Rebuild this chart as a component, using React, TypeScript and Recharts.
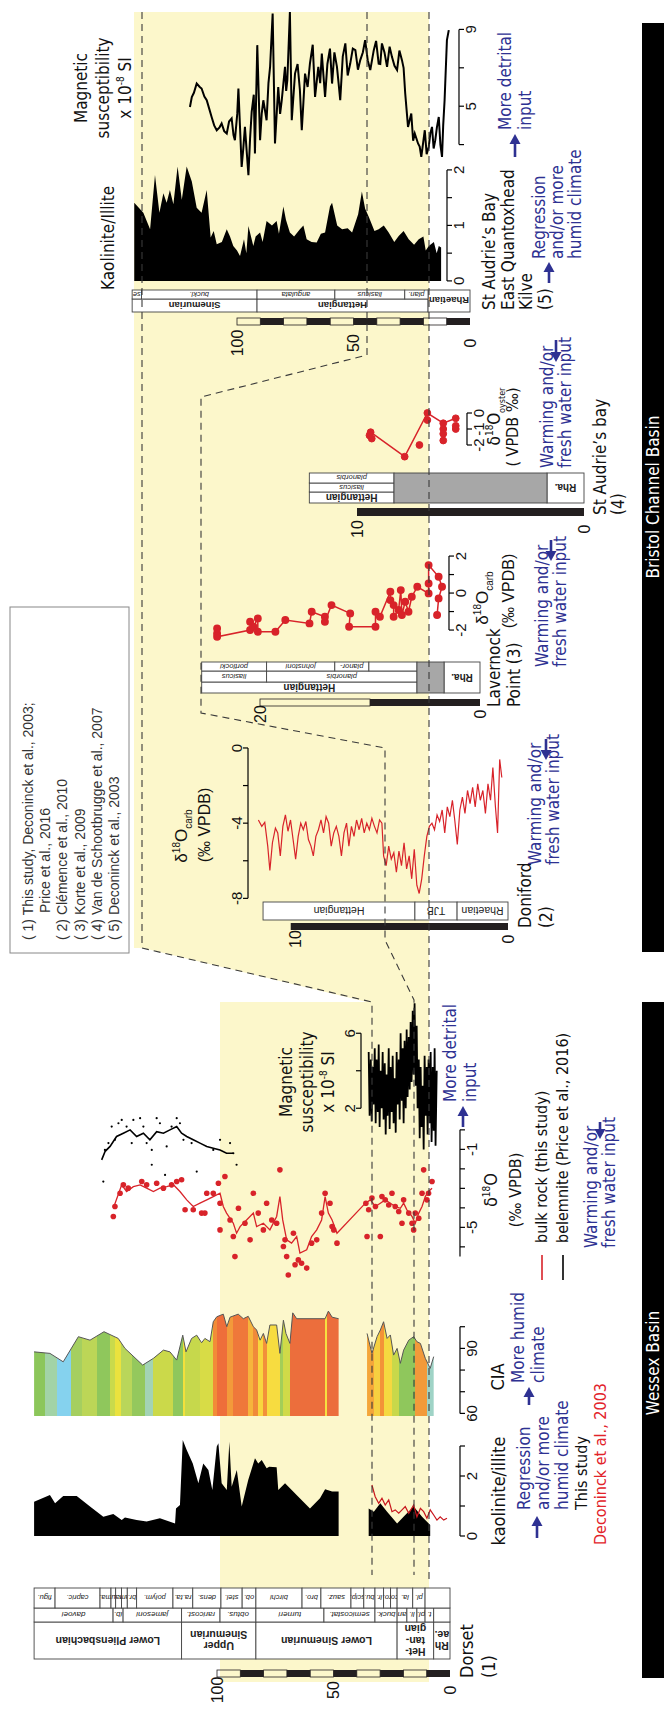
import React from "react";
import { ComposedChart, Line, Area, XAxis, YAxis, ReferenceArea, ReferenceLine } from "recharts";

const W = 1710;
const H = 664;
const SANS = "'Liberation Sans', Arial, Helvetica, sans-serif";
const NARROW = "'Liberation Sans Narrow', 'Arial Narrow', 'DejaVu Sans Condensed', sans-serif";
const BLUE = "#2e3192";
const RED = "#d8232a";
const PALE = "#fcf7cb";

// ---------- data: [depth (m), value] ----------

// (5) Kilve / East Quantoxhead / St Audrie's Bay
const kilveKaolinite = [[144.1,1.41],[140.2,1.23],[137.3,0.93],[135.2,1.91],[133.3,1.23],[131.6,1.58],[130.2,1.41],[128.8,1.64],[127.3,1.38],[125.5,2.06],[123.7,1.46],[121.6,2.06],[119.4,1.79],[117.3,1.32],[115.2,1.23],[113,1.64],[111.3,0.78],[110,0.9],[108.7,0.66],[106.5,0.7],[104.4,0.93],[103,0.8],[101.6,0.63],[100,0.55],[98.7,0.45],[97,0.75],[96,0.5],[95.1,0.99],[93,0.63],[92,0.8],[90.1,0.87],[89,0.7],[87.3,1.08],[85,1.0],[83,1.08],[82,0.85],[80.1,1.34],[79,1.1],[77.3,0.87],[75.5,0.8],[73,0.93],[71.5,1.0],[70.1,0.75],[68,0.7],[65.8,0.69],[64,0.85],[62.2,0.87],[60.1,1.34],[59.2,1.41],[57,1.0],[54.9,0.93],[52.5,0.95],[50.6,0.87],[48,1.2],[46.4,1.61],[45,1.3],[43.5,1.16],[41,0.9],[39.2,0.93],[37,1.0],[34.9,0.87],[32.5,0.7],[30.6,0.81],[28.5,0.9],[26.3,0.75],[24,0.65],[22,0.75],[20,0.8],[19,0.55],[17.7,0.63],[15.5,0.7],[14.3,0.5],[13.4,0.63],[12.4,0.6]];
const kilveMagSus = [[120.2,4.96],[119.4,5.48],[118.5,5.7],[117.3,6.18],[116,6.0],[115.2,5.92],[114,5.5],[113,5.31],[112,4.9],[110.9,4.44],[109.8,4.0],[108.7,3.75],[107.5,3.9],[106.6,4.1],[105.5,3.7],[104.4,3.58],[103.4,4.2],[102.3,4.36],[101.5,3.5],[100.9,3.23],[99.9,4.6],[99.4,5.92],[98,1.84],[97.3,2.8],[96.6,3.92],[95.1,1.41],[94.4,3.3],[93.7,4.7],[92.8,5.6],[92.3,2.54],[91.3,8.18],[90.1,3.23],[89.4,4.6],[88.7,5.31],[87.3,4.27],[86.5,6.2],[85.8,7.05],[84.7,9.83],[83.7,3.06],[82.3,6.0],[81.5,4.6],[80.8,5.3],[79.4,7.05],[78.9,5.8],[78.4,6.35],[77.3,9.9],[76.5,4.27],[75.1,6.7],[74,7.2],[73,5.83],[72.2,3.75],[71.5,5.2],[70.8,6.7],[69.7,6.0],[68.7,7.22],[67.5,8.2],[66.5,5.48],[65.1,7.05],[64.3,6.2],[63.6,7.74],[62.2,5.48],[61.2,7.2],[60.1,8.0],[59.2,6.18],[58.2,7.8],[57.1,7.05],[56.4,6.2],[55.7,5.31],[54.6,7.6],[53.5,8.27],[52.5,6.6],[51.4,7.22],[50.3,8.0],[49.2,7.92],[48.1,6.9],[47.1,7.4],[46,7.8],[45,8.44],[43.9,7.4],[42.8,6.88],[41.3,7.92],[40.3,8.4],[39.2,7.22],[38.5,7.2],[37.8,8.27],[36.7,7.8],[35.6,7.05],[34.5,8.1],[33.5,7.57],[32.4,7.1],[31.3,6.88],[30.3,7.9],[29.2,7.4],[28.5,7.0],[27.8,5.66],[27.2,4.8],[26.6,3.92],[25.2,4.62],[24.4,3.2],[23.7,3.58],[22.3,3.06],[21.6,2.9],[20.9,2.36],[19.4,3.75],[18.6,2.5],[17.7,2.88],[17,3.6],[16.3,3.92],[15.6,2.8],[14.9,3.23],[14.2,3.9],[13.4,4.44],[12.7,3.0],[12,2.36],[11.5,4.0],[10.9,5.31],[9.9,8.44],[9.1,8.96]];
const kilveStages = [["Sinemurian",145,91.4],["Hettangian",91.4,18],["Rhaetian",18,0,1]];
const kilveZones = [["se",145,141],["buckl.",141,91.4],["angulata",91.4,58],["liasicus",58,28],["plan.",28,18]];

// (4) St Audrie's bay, oyster δ18O
const audrieLine = [[9.4,-1.2],[7.9,-2.73],[6.9,0.0],[6.2,-0.64],[5.65,-0.33]];
const audrieDots = [[9.4,-1.2],[9.35,-1.6],[9.45,-1.4],[7.9,-2.73],[7.25,-2.0],[6.9,0.0],[6.9,-0.44],[6.2,-0.64],[6.2,-1.0],[6.2,-1.3],[6.2,-1.72],[5.65,-0.33],[5.65,-0.8],[5.65,-1.0]];
const audrieStages = [["Hettangian",12.1,8.37],["Rha.",1.63,0,1]];
const audrieGap = [[8.37,1.63]];
const audrieZonesA = [["liasicus",12.1,8.37]];
const audrieZonesB = [["planorbis",12.1,8.37]];

// (3) Lavernock Point, δ18O carb
const lavernockD18O = [[23.9,-1.91],[23.9,-2.18],[23.9,-2.36],[20.9,-2.0],[20.9,-1.55],[20.6,-1.82],[20.2,-1.37],[20.2,-2.09],[18.6,-2.09],[17.7,-1.46],[15.5,-1.64],[15.3,-1.01],[14.1,-1.28],[14.1,-1.55],[13.5,-0.65],[11.8,-1.1],[11.9,-1.82],[9.5,-1.82],[9.5,-1.01],[9.1,-1.28],[8.15,0.07],[8.15,-0.38],[7.85,-0.65],[7.85,-1.28],[7.4,-0.92],[7.2,0.16],[7.1,-1.19],[6.8,-0.47],[6.5,-1.01],[6.2,-0.2],[5.7,0.34],[4.67,-0.02],[4.67,0.52],[4.67,1.51],[3.76,0.88],[3.45,0.34],[3.76,-0.29],[3.9,-1.19]];
const lavernockStages = [["Hettangian",25.3,5.73],["Rha.",3.27,0,1]];
const lavernockGap = [[5.73,3.27]];
const lavernockZonesA = [["liasicus",25.3,19.4],["planorbis",19.4,5.73]];
const lavernockZonesB = [["portlocki",25.3,19.4],["johnstoni",19.4,13.2],["planor-",13.2,10.1],["",10.1,5.73]];

// (2) Doniford, δ18O carb
const donifordD18O = [[11.72,-3.83],[11.56,-4.17],[11.42,-3.96],[11.28,-5.22],[11.18,-6.52],[11.06,-5.04],[10.92,-4.26],[10.81,-4.52],[10.69,-5.74],[10.57,-4.17],[10.45,-3.56],[10.33,-4.43],[10.21,-3.83],[10.09,-4.87],[9.97,-5.91],[9.85,-4.7],[9.73,-4.0],[9.61,-4.35],[9.49,-3.91],[9.37,-4.87],[9.25,-5.22],[9.14,-5.74],[9.02,-4.7],[8.9,-4.35],[8.78,-3.83],[8.66,-4.52],[8.54,-3.65],[8.42,-4.0],[8.3,-5.22],[8.18,-4.52],[8.06,-4.17],[7.94,-4.7],[7.82,-5.74],[7.7,-4.52],[7.58,-4.0],[7.47,-5.22],[7.35,-4.17],[7.23,-4.7],[7.11,-3.83],[6.99,-4.35],[6.87,-3.74],[6.75,-4.52],[6.63,-4.0],[6.51,-4.35],[6.39,-3.74],[6.27,-4.17],[6.15,-4.52],[6.03,-3.83],[5.92,-4.0],[5.84,-5.74],[5.72,-6.26],[5.6,-5.22],[5.48,-5.91],[5.36,-5.57],[5.24,-6.61],[5.12,-5.48],[5.0,-6.26],[4.88,-5.04],[4.76,-6.43],[4.64,-5.74],[4.52,-6.96],[4.4,-5.39],[4.28,-7.3],[4.17,-7.74],[4.05,-6.96],[3.93,-5.74],[3.81,-4.7],[3.69,-4.17],[3.57,-4.0],[3.45,-4.35],[3.33,-3.56],[3.21,-3.91],[3.09,-3.3],[2.97,-4.52],[2.85,-3.13],[2.73,-3.65],[2.61,-2.78],[2.5,-3.83],[2.38,-5.13],[2.26,-3.3],[2.14,-2.61],[2.02,-3.48],[1.9,-2.26],[1.78,-2.96],[1.66,-2.09],[1.54,-3.13],[1.42,-1.91],[1.3,-2.78],[1.18,-2.26],[1.06,-3.48],[0.94,-1.91],[0.82,-2.78],[0.71,-1.04],[0.59,-3.13],[0.49,-4.52],[0.39,-0.61],[0.29,-1.57]];
const donifordStages = [["Hettangian",11.5,4.37],["TJB",4.37,2.39],["Rhaetian",2.39,0]];

// (1) Dorset
const dorsetKaolinite = [[178.5,1.14],[171.7,1.37],[169.5,1.09],[166,1.33],[160.2,1.33],[154.5,0.98],[148.8,0.64],[144.5,0.73],[140.9,0.53],[139.5,0.62],[134.5,0.53],[130.2,0.48],[124.5,0.59],[118,0.42],[117.6,0.92],[115.9,1.03],[114.7,3.2],[113,2.87],[110.4,2.42],[108,1.76],[105.9,2.42],[103.7,2.2],[102,1.53],[100.1,2.98],[99.4,3.09],[98,1.76],[95.8,1.53],[94.7,3.14],[93.7,1.64],[91.5,2.2],[89.4,0.98],[86.6,1.87],[83.7,2.59],[82.3,2.42],[80.8,2.53],[78.7,2.26],[77.6,2.31],[74.4,2.29],[73.7,1.53],[70.8,1.76],[65.1,1.31],[60.1,0.92],[55.8,1.26],[53.6,1.56],[50.6,1.48],[47.8,1.48],[41,null],[34.9,0.92],[32.7,0.81],[29.9,1.09],[27,0.81],[22.7,0.42],[19.2,0.7],[15.6,0.98],[12,0.64],[8.5,0.37]];
const dorsetKaoliniteDeconinck = [[33.5,1.7],[32.1,1.31],[30.6,1.09],[29.2,1.26],[27.8,1.03],[26.3,1.2],[24.9,0.81],[23.5,0.87],[22,0.76],[20.6,0.87],[19.2,0.98],[17.7,0.76],[15.6,1.03],[14.2,0.64],[12.7,0.92],[11.3,0.81],[9.9,0.59],[8.5,0.87],[7,0.7],[5.6,0.53],[4.2,0.64],[2.7,0.53],[1.3,0.59]];
const dorsetCIA = [[178.5,88.4],[171.7,87.7],[166,83.8],[159.5,95.4],[154.5,93.8],[148.5,97.7],[142.4,94.6],[139.5,90],[131.9,82.3],[127.3,85.4],[123,89.2],[120.2,88.4],[117.3,84.6],[114.7,96.1],[113.3,88.4],[110.9,94.6],[108.7,96.1],[106.6,92.6],[105.2,94.6],[103,93.1],[101.6,102.3],[100.1,104.6],[97.3,105.8],[95.8,100],[94.4,104.4],[90.9,105.8],[88.7,103.7],[86.6,104.8],[84.4,100],[83,98.5],[81.5,93.8],[80.1,96.9],[78.7,92.3],[77.3,100.8],[74.4,100.8],[73,87.7],[71.5,103],[70.4,96.9],[68.7,92.3],[67.5,106.4],[65.8,103.7],[53.6,103.7],[52.2,107.2],[50.6,104.4],[47.8,103.7],[41,null],[35.6,96.9],[33.5,87.7],[31.3,95.4],[29.9,98.5],[28.5,102.3],[27,94.6],[25.6,96.2],[24.2,86.9],[22.7,90],[21.3,83.1],[19.9,89.2],[17.7,93.8],[15.6,95.4],[14.2,93.1],[12.7,92.3],[10.6,85.4],[8.5,80.8],[7,86.2]];
const ciaBandDepths = [178.5,173.8,168.5,162.8,158.1,151.6,145.9,143.8,141.3,136.6,130.9,127.3,118.7,114.5,113.7,107.3,101.6,100.1,95.8,93.0,86.6,84.4,82.3,80.1,78.7,73.0,71.5,68.7,53.6,52.9,47.8,35.6,32.7,29.9,28.5,24.9,22.0,15.0,9.9,7.0];
const ciaBandColors = ["#8cc65a","#a2d3a6","#85d2ee","#a5cf60","#bcd657","#8fc75c","#c9da4c","#ebe23e","#b9d65a","#94c85d","#a3d3b5","#cbd94a","#8fc75c","#f2e03c","#c6d84c","#d8dc46","#f28c38","#ee6e3a","#f39a3a","#ef783a","#f6b43c","#f08a3a","#f8d63e","#f2903a","#f7dc40","#a3ce58","#d0da48","#ec6e3c","#f6e040","#ec6e3c","#ffffff","#f4a63a","#f6d040","#f39238","#f5d840","#c8d84a","#8fc75c","#f29a3a","#9fd3c6"];
const dorsetBulkLine = [[144.5,-4.02],[140.9,-2.82],[138.8,-3.16],[135.9,-2.91],[133,-2.82],[130.2,-2.99],[127.3,-3.16],[124.5,-2.99],[121.6,-2.91],[118.7,-2.82],[115.9,-3.16],[113,-3.59],[110.2,-3.93],[107.3,-3.76],[104.4,-3.59],[101.6,-3.42],[98.7,-3.25],[97.3,-3.93],[95.9,-4.27],[93,-4.79],[91.6,-5.3],[90.1,-4.96],[87.3,-4.62],[84.4,-4.27],[83,-4.96],[80.1,-4.79],[77.3,-5.13],[74.4,-4.44],[73,-3.42],[71.8,-4.62],[70.1,-5.64],[68,-5.81],[65.8,-5.47],[64.4,-6.32],[61.5,-6.15],[59.4,-5.47],[57.2,-5.13],[55.1,-4.62],[53.6,-3.42],[52.2,-4.27],[50.6,-4.62],[48.5,-5.3],[42,null],[36.3,-3.76],[34.2,-3.59],[32,-3.93],[29.9,-3.76],[27.8,-3.59],[25.6,-3.76],[23.5,-3.93],[21.3,-4.02],[19.9,-3.76],[18.5,-4.1],[16.3,-4.44],[14.9,-4.79],[13.4,-4.27],[12,-3.93],[10.6,-3.42],[9.2,-3.16],[7.7,-2.99]];
const dorsetBulkDots = [[144.5,-4.44],[143.8,-3.93],[141.6,-3.25],[140.2,-2.82],[138.1,-2.99],[132.3,-2.65],[130.2,-2.82],[125.9,-2.74],[123,-2.99],[119.5,-2.82],[117.3,-2.65],[115.2,-2.56],[113.7,-4.1],[110.2,-4.1],[106.6,-4.27],[105.2,-4.27],[104.4,-3.25],[101.6,-3.25],[99.4,-2.74],[98.7,-3.76],[98.7,-5.13],[96.6,-2.39],[94.4,-4.62],[93,-5.47],[92.3,-6.5],[90.8,-4.02],[88,-4.79],[85.8,-5.64],[84.4,-3.25],[82.3,-4.27],[80.1,-5.13],[78.7,-3.76],[76.5,-4.62],[74.4,-4.79],[73,-2.05],[71.5,-5.98],[70.8,-5.64],[70.1,-6.5],[69.4,-7.44],[67.2,-5.3],[66.5,-6.92],[65.1,-6.67],[63.7,-6.84],[61.5,-7.09],[59.4,-5.81],[57.2,-5.64],[55.1,-4.27],[53.6,-3.25],[51.5,-3.76],[50.6,-4.96],[49.9,-5.13],[48.5,-5.81],[36.1,-3.76],[35.6,-5.47],[34.9,-4.1],[33.5,-3.5],[32,-3.93],[29.9,-5.47],[29.2,-3.42],[27.8,-3.59],[26.3,-3.85],[24.9,-3.25],[23.5,-3.93],[22,-4.19],[20.6,-4.79],[19.9,-3.59],[17.7,-4.27],[16.3,-4.79],[15.6,-5.13],[14.9,-4.27],[13.4,-4.53],[12,-3.25],[11.3,-2.05],[9.9,-3.59],[9.2,-3.25],[7.7,-2.65]];
const belemniteLine = [[149.5,-1.54],[148,-1.1],[145.9,-0.85],[143.1,-0.34],[140.2,-0.17],[137.3,0],[134.5,-0.34],[131.6,-0.17],[128.8,-0.51],[125.9,-0.09],[123,-0.17],[120.2,0],[117.3,0.17],[115.2,-0.17],[113,-0.34],[110.2,-0.51],[107.3,-0.68],[104.4,-0.85],[101.6,-0.94],[98.7,-1.03],[95.9,-1.2],[93,-1.2]];
const belemniteDots = [[148.8,-2.65],[148.1,-1.03],[146.6,-0.68],[145.2,0.17],[143.8,-0.51],[142.3,0.34],[140.9,0.51],[138.8,0.17],[136.6,-0.68],[135.9,0.51],[133,0.6],[131.6,0.17],[130.2,-0.68],[128,-1.03],[128,-1.79],[125.9,0.6],[124.5,0.34],[122.3,-2.31],[121.6,-0.85],[119.5,0.17],[117.3,0.6],[115.9,0.34],[114.4,-0.51],[110.9,-0.68],[108.7,-2.14],[101.6,-1.03],[98.7,-0.51],[94.4,-0.68],[93,-1.2],[91.6,-1.79]];
const dorsetMagSus = [[34.9,5.0],[34.5,1.6],[34.0,4.6],[33.6,1.3],[33.2,4.2],[32.8,2.2],[32.3,5.2],[31.9,1.2],[31.5,4.6],[31.0,1.8],[30.6,5.4],[30.2,1.0],[29.8,4.0],[29.3,2.0],[28.9,5.0],[28.5,1.4],[28.0,4.4],[27.6,0.6],[27.2,3.8],[26.8,1.6],[26.3,5.2],[25.9,0.9],[25.5,4.2],[25.0,1.8],[24.6,4.8],[24.2,1.2],[23.7,3.6],[23.3,0.7],[22.9,5.0],[22.5,2.2],[22.0,4.6],[21.6,1.4],[21.2,6.0],[20.7,2.4],[20.3,5.2],[19.9,1.2],[19.5,5.6],[19.0,2.0],[18.6,6.2],[18.2,2.6],[17.7,5.8],[17.3,3.0],[16.9,6.6],[16.5,3.4],[16.0,7.2],[15.6,3.8],[15.2,7.6],[14.7,3.2],[14.3,6.4],[13.9,2.0],[13.4,4.6],[13.0,0.4],[12.6,4.2],[12.2,1.0],[11.7,3.2],[11.3,-0.2],[10.9,4.8],[10.4,1.6],[10.0,4.2],[9.6,0.6],[9.2,4.6],[8.7,1.2],[8.3,5.0],[7.9,0.2],[7.4,4.2],[7.0,0.8],[6.6,5.2],[6.2,0.0],[5.7,4.0]];
const dorsetStages = [["Lower Pliensbachian",178.5,115.2],["Upper|Sinemurian",115.2,83.3],["Lower Sinemurian",83.3,22.7],["Het-|tan-|gian",22.7,7.0],["Rh|ae.",7.0,0]];
const dorsetZones = [["davoei",178.5,144.6],["ib.",144.6,140.3],["jamesoni",140.3,115.2],["raricost.",115.2,98.7],["obtus.",98.7,83.3],["turneri",83.3,54.1],["semicostat.",54.1,32.2],["buck.",32.2,22.7],["an",22.7,18.5],["li.",18.5,14.2],["pl.",14.2,10.7],["t.",10.7,7.0],["",7.0,0]];
const dorsetSubzones = [["figu.",178.5,169.5],["capric.",169.5,150.2],["ma.",150.2,145.5],["lu.",145.5,143.5],["va.",143.5,141],["jam.",141,138.5],["br.",138.5,134.5],["polym.",134.5,118.9],["ra.ta.",118.9,110.4],["dens.",110.4,98.3],["stel.",98.3,89.2],["ob.",89.2,83.3],["birchi",83.3,63.5],["bro.",63.5,55.4],["sauz.",55.4,42.5],["scip.",42.5,37],["bu.",37,32.2],["lr.",32.2,28.5],["ro.",28.5,25.5],["co.",25.5,22.7],["la.",22.7,16],["pl.",16,10.7],["",10.7,0]];

// scale bars: [from, to, black?]
const bar100 = [[0,10,1],[10,20,0],[20,30,1],[30,40,0],[40,50,1],[50,60,0],[60,70,1],[70,80,0],[80,90,1],[90,100,0]];
const bar20 = [[0,10,1],[10,20,0]];
const bar10 = [[0,10,1]];
const barDoniford = [[0,10.2,1]];

// ---------- layout (landscape frame, rotated at the end) ----------
const KILVE = { zero: 470, px: 2.33 };
const AUDRIE = { zero: 584, px: 22.7 };
const LAVERNOCK = { zero: 480, px: 11 };
const DONIFORD = { zero: 508, px: 21.3 };
const DORSET = { zero: 450, px: 2.33 };

const rows = (pairs: any[]) => pairs.map(([d, v]: any) => ({ d, v }));

function CellShape(props: any) {
  const { x, y, width, height, cell } = props;
  const cx = x + width / 2;
  const cy = y + height / 2;
  const k = cell.kind;
  let rect = null;
  if (k === "black") rect = <rect x={x} y={y} width={width} height={height} fill="#231f20" />;
  else if (k === "light") rect = <rect x={x} y={y} width={width} height={height} fill="none" stroke="#231f20" strokeWidth={0.8} />;
  else if (k === "gray") rect = <rect x={x} y={y} width={width} height={height} fill="#a7a7a7" stroke="#444" strokeWidth={0.9} />;
  else if (k !== "depth") rect = <rect x={x} y={y} width={width} height={height} fill="#fff" stroke="#444" strokeWidth={0.9} />;
  let label = null;
  if (cell.text) {
    if (k === "depth") {
      label = (
        <text x={cx} y={cy} textAnchor="middle" dominantBaseline="central" fontSize={16} fontFamily={SANS} fill="#111">
          {cell.text}
        </text>
      );
    } else {
      const lines = String(cell.text).split("|");
      const lh = cell.size * 1.05;
      label = (
        <text transform={`rotate(-90 ${cx} ${cy})`} x={cx} y={cy} textAnchor="middle" dominantBaseline="central"
          fontSize={cell.size} fontFamily={SANS} fontWeight={k === "stage" ? "bold" : "normal"}
          fontStyle={k === "zone" ? "italic" : "normal"} fill="#222">
          {lines.map((l, i) => (
            <tspan key={i} x={cx} dy={i === 0 ? -((lines.length - 1) / 2) * lh : lh}>{l}</tspan>
          ))}
        </text>
      );
    }
  }
  return <g>{rect}{label}</g>;
}

function units(list: any[], row: number[], kind: string, size: number, spanTo?: number) {
  return list.map(([text, a, b, span]: any) => ({ x1: row[0], x2: span && spanTo ? spanTo : row[1], d1: b, d2: a, text, kind, size }));
}
function bars(list: any[], row: number[]) {
  return list.map(([a, b, black]: any) => ({ x1: row[0], x2: row[1], d1: a, d2: b, kind: black ? "black" : "light" }));
}
function gaps(list: any[], x1: number, x2: number) {
  return list.map(([a, b]: any) => ({ x1, x2, d1: b, d2: a, kind: "gray" }));
}
function depthLabels(list: number[], at: number, site: any) {
  const e = 0.6 / site.px;
  return list.map((d) => ({ x1: at - 12, x2: at + 12, d1: d - e, d2: d + e, text: String(d), kind: "depth" }));
}

function Column({ site, cells }: any) {
  const dTop = site.zero / site.px;
  const dBot = (site.zero - H) / site.px;
  // invisible series that spans the frame so the axes have data
  const frame = [{ d: dBot, v: 0 }, { d: dTop, v: W }];
  return (
    <div style={{ position: "absolute", left: 0, top: 0 }}>
      <ComposedChart layout="vertical" width={W} height={H} margin={{ top: 0, right: 0, bottom: 0, left: 0 }}>
        <XAxis type="number" domain={[0, W]} hide />
        <YAxis type="number" dataKey="d" domain={[dBot, dTop]} reversed hide />
        <Line data={frame} dataKey="v" stroke="none" dot={false} activeDot={false} isAnimationActive={false} />
        {cells.map((c: any, i: number) => (
          <ReferenceArea key={i} x1={c.x1} x2={c.x2} y1={c.d1} y2={c.d2} ifOverflow="visible"
            shape={(p: any) => <CellShape {...p} cell={c} />} />
        ))}
      </ComposedChart>
    </div>
  );
}

function Panel({ site, top, bottom, x0, k, domain, ticks, labels, bracket, orient = "bottom", children }: any) {
  const axisH = 24;
  const dLow = (site.zero - bottom) / site.px;
  const dHigh = (site.zero - top) / site.px;
  const left = x0 + k * domain[0];
  const width = k * (domain[1] - domain[0]);
  const edge = orient === "bottom" ? dLow : dHigh;
  return (
    <div style={{ position: "absolute", left, top: orient === "bottom" ? top : top - axisH }}>
      <ComposedChart layout="vertical" width={width} height={bottom - top + axisH} margin={{ top: 0, right: 0, bottom: 0, left: 0 }}>
        <XAxis type="number" domain={domain} ticks={ticks} interval={0} orientation={orient} height={axisH}
          axisLine={false} tickLine={{ stroke: "#000", strokeWidth: 1.2 }} tickSize={5} tickMargin={1}
          tick={{ fill: "#111", fontSize: 15, fontFamily: SANS }}
          tickFormatter={(v: number) => (labels.includes(v) ? String(v) : "")} />
        <YAxis type="number" dataKey="d" domain={[dLow, dHigh]} reversed hide />
        <ReferenceLine segment={[{ x: bracket[0], y: edge }, { x: bracket[1], y: edge }]} stroke="#000" strokeWidth={1.2} />
        {children}
      </ComposedChart>
    </div>
  );
}

function Txt({ x, y, lines, size = 17, lh, font = NARROW, fill = "#111", anchor = "start" }: any) {
  const step = lh ?? size * 1.08;
  return (
    <g fontSize={size} fontFamily={font} fill={fill} textAnchor={anchor}>
      {lines.map((l: any, i: number) => (
        <text key={i} x={x} y={y + i * step}>{l}</text>
      ))}
    </g>
  );
}

function Arrow({ x1, x2, y }: any) {
  const dir = Math.sign(x2 - x1);
  return (
    <g>
      <line x1={x1} y1={y} x2={x2 - dir * 7} y2={y} stroke={BLUE} strokeWidth={2.6} />
      <path d={`M${x2},${y} L${x2 - dir * 10},${y - 5.5} L${x2 - dir * 10},${y + 5.5} Z`} fill={BLUE} />
    </g>
  );
}

function Delta({ sub }: any) {
  return (
    <>
      δ<tspan dy={-7} fontSize={10}>18</tspan><tspan dy={7}>O</tspan>
      {sub ? <tspan dy={5} fontSize={10}>{sub}</tspan> : null}
    </>
  );
}

function MagSus({ x, y, lh }: any) {
  return (
    <g fontSize={17} fontFamily={NARROW} textAnchor="middle" fill="#111">
      <text x={x} y={y}>Magnetic</text>
      <text x={x} y={y + lh}>susceptibility</text>
      <text x={x} y={y + 2 * lh}>x 10<tspan dy={-7} fontSize={10}>-8</tspan><tspan dy={7}> SI</tspan></text>
    </g>
  );
}

export default function App() {
  const ciaTop = Math.max(...dorsetCIA.map((p) => p[0]));
  const ciaBot = Math.min(...dorsetCIA.map((p) => p[0]));
  const off = (d: number) => (ciaTop - d) / (ciaTop - ciaBot);

  const kilveCells = [
    ...units(kilveStages, [1398, 1411], "stage", 9.5, 1420),
    ...units(kilveZones, [1411, 1420], "zone", 7.5),
    ...bars(bar100, [1385, 1392]),
    ...depthLabels([0, 50, 100], 1367, KILVE),
  ];
  const audrieCells = [
    ...units(audrieStages, [1207, 1218], "stage", 10, 1237),
    ...units(audrieZonesA, [1218, 1227], "zone", 7.5),
    ...units(audrieZonesB, [1227, 1237], "zone", 7.5),
    ...gaps(audrieGap, 1207, 1237),
    ...bars(bar10, [1194, 1202]),
    ...depthLabels([0, 10], 1181, AUDRIE),
  ];
  const lavernockCells = [
    ...units(lavernockStages, [1017, 1028], "stage", 10, 1048),
    ...units(lavernockZonesA, [1028, 1039], "zone", 7.5),
    ...units(lavernockZonesB, [1039, 1048], "zone", 7.5),
    ...gaps(lavernockGap, 1017, 1048),
    ...bars(bar20, [1004, 1011]),
    ...depthLabels([0, 20], 996, LAVERNOCK),
  ];
  const donifordCells = [
    ...units(donifordStages, [790, 808], "plain", 10.5),
    ...bars(barDoniford, [780, 787]),
    ...depthLabels([0, 10], 771, DONIFORD),
  ];
  const dorsetCells = [
    ...units(dorsetStages, [51, 88], "stage", 10.5),
    ...units(dorsetZones, [88, 102], "zone", 8),
    ...units(dorsetSubzones, [102, 122], "zone", 7.5),
    ...bars(bar100, [33, 40]),
    ...depthLabels([0, 50, 100], 20, DORSET),
  ];

  return (
    <div style={{ position: "absolute", left: 0, top: 0, width: 664, height: 1710, overflow: "hidden", background: "#fff" }}>
      <style>{"svg{overflow:visible}"}</style>
      <div style={{ position: "absolute", left: 0, top: 0, width: W, height: H, transform: `translate(0px, ${W}px) rotate(-90deg)`, transformOrigin: "0 0" }}>
        <svg width={W} height={H} style={{ position: "absolute", left: 0, top: 0 }}>
          <polygon points="1698,134 1698,429 28,429 28,220 708,220 708,367 762,143 762,134" fill={PALE} />
        </svg>

        <Column site={KILVE} cells={kilveCells} />
        <Column site={AUDRIE} cells={audrieCells} />
        <Column site={LAVERNOCK} cells={lavernockCells} />
        <Column site={DONIFORD} cells={donifordCells} />
        <Column site={DORSET} cells={dorsetCells} />

        {/* (5) Kilve */}
        <Panel site={KILVE} top={120} bottom={447} x0={1429} k={55.5} domain={[-0.2, 2.15]} ticks={[0, 0.5, 1, 1.5, 2]} labels={[0, 1, 2]} bracket={[0, 2]}>
          <Area data={rows(kilveKaolinite)} dataKey="v" type="linear" baseValue={0} fill="#000" fillOpacity={1} stroke="none" isAnimationActive={false} />
        </Panel>
        <Panel site={KILVE} top={140} bottom={459} x0={1508} k={19.2} domain={[1.0, 10.3]} ticks={[3, 5, 7, 9]} labels={[5, 9]} bracket={[3, 9]}>
          <Line data={rows(kilveMagSus)} dataKey="v" type="linear" stroke="#000" strokeWidth={2} dot={false} isAnimationActive={false} />
        </Panel>

        {/* (4) St Audrie's bay */}
        <Panel site={AUDRIE} top={350} bottom={467} x0={1297} k={16} domain={[-3.0, 0.6]} ticks={[-2, -1, 0]} labels={[-2, -1, 0]} bracket={[-2, 0]}>
          <Line data={rows(audrieLine)} dataKey="v" type="linear" stroke={RED} strokeWidth={1.5} dot={false} isAnimationActive={false} />
          <Line data={rows(audrieDots)} dataKey="v" type="linear" stroke="none" dot={{ r: 3.4, fill: RED, stroke: RED }} isAnimationActive={false} />
        </Panel>

        {/* (3) Lavernock Point */}
        <Panel site={LAVERNOCK} top={200} bottom={449} x0={1117} k={18.5} domain={[-2.7, 2.2]} ticks={[-2, -1, 0, 1, 2]} labels={[-2, 0, 2]} bracket={[-2, 2]}>
          <Line data={rows(lavernockD18O)} dataKey="v" type="linear" stroke={RED} strokeWidth={1.5} dot={{ r: 3.2, fill: RED, stroke: RED }} isAnimationActive={false} />
        </Panel>

        {/* (2) Doniford */}
        <Panel site={DONIFORD} top={248} bottom={520} x0={962} k={18.8} domain={[-8.3, 0.3]} ticks={[0, -2, -4, -6, -8]} labels={[0, -4, -8]} bracket={[-8, 0]} orient="top">
          <Line data={rows(donifordD18O)} dataKey="v" type="linear" stroke={RED} strokeWidth={1.2} dot={false} isAnimationActive={false} />
        </Panel>

        {/* (1) Dorset */}
        <Panel site={DORSET} top={20} bottom={460} x0={174} k={30} domain={[-0.3, 3.4]} ticks={[0, 1, 2, 3]} labels={[0, 2]} bracket={[0, 3]}>
          <Area data={rows(dorsetKaolinite)} dataKey="v" type="linear" baseValue={0} fill="#000" fillOpacity={1} stroke="none" isAnimationActive={false} />
          <Line data={rows(dorsetKaoliniteDeconinck)} dataKey="v" type="linear" stroke="#c8161d" strokeWidth={1.2} dot={false} isAnimationActive={false} />
        </Panel>
        <Panel site={DORSET} top={20} bottom={460} x0={166.7} k={2.167} domain={[58.8, 109]} ticks={[60, 70, 80, 90, 100]} labels={[60, 90]} bracket={[60, 100]}>
          <defs>
            <linearGradient id="ciaFill" x1="0" y1="0" x2="0" y2="1">
              {ciaBandColors.flatMap((c, i) => [
                <stop key={`a${i}`} offset={off(ciaBandDepths[i])} stopColor={c} />,
                <stop key={`b${i}`} offset={off(ciaBandDepths[i + 1])} stopColor={c} />,
              ])}
            </linearGradient>
          </defs>
          <Area data={rows(dorsetCIA)} dataKey="v" type="linear" baseValue={58.8} fill="url(#ciaFill)" fillOpacity={1} stroke="#555" strokeWidth={1} isAnimationActive={false} />
        </Panel>
        <Panel site={DORSET} top={20} bottom={460} x0={580} k={19.5} domain={[-7.7, 0.9]} ticks={[0, -1, -2, -3, -4, -5, -6]} labels={[-1, -5]} bracket={[-6.5, 0]}>
          <Line data={rows(dorsetBulkDots)} dataKey="v" type="linear" stroke="none" dot={{ r: 2.8, fill: RED, stroke: "none" }} isAnimationActive={false} />
          <Line data={rows(dorsetBulkLine)} dataKey="v" type="linear" stroke={RED} strokeWidth={1.3} dot={false} isAnimationActive={false} />
          <Line data={rows(belemniteDots)} dataKey="v" type="linear" stroke="none" dot={{ r: 1.1, fill: "#000", stroke: "none" }} isAnimationActive={false} />
          <Line data={rows(belemniteLine)} dataKey="v" type="linear" stroke="#000" strokeWidth={1.6} dot={false} isAnimationActive={false} />
        </Panel>
        <Panel site={DORSET} top={361} bottom={445} x0={564.5} k={18.75} domain={[-0.6, 8.0]} ticks={[2, 4, 6]} labels={[2, 6]} bracket={[2, 6]} orient="top">
          <Line data={rows(dorsetMagSus)} dataKey="v" type="linear" stroke="#000" strokeWidth={1.8} dot={false} isAnimationActive={false} />
        </Panel>

        <svg width={W} height={H} style={{ position: "absolute", left: 0, top: 0 }}>
          <g fill="none" stroke="#3a3a3a" strokeWidth={1.1} strokeDasharray="7 5">
            <polyline points="1698,142 762,142 708,372 135,372" />
            <polyline points="1698,367 1355,367 1313,201 997,201 962,385 770,385 710,414 135,414" />
            <polyline points="1698,429 127,429" />
          </g>

          <rect x={32} y={642} width={676} height={22} fill="#000" />
          <rect x={758} y={642} width={929} height={22} fill="#000" />
          <Txt x={347} y={659} lines={["Wessex Basin"]} fill="#fff" anchor="middle" size={17} />
          <Txt x={1213} y={659} lines={["Bristol Channel Basin"]} fill="#fff" anchor="middle" size={17} />

          <rect x={757} y={10} width={346} height={119} fill="#fff" stroke="#888" strokeWidth={1} />
          <Txt x={770} y={33} font={SANS} size={14} lh={17.2} fill="#333"
            lines={["( 1) This study, Deconinck et al., 2003;", "", "( 2) Clémence et al., 2010", "( 3) Korte et al., 2009", "( 4) Van de Schootbrugge et al., 2007", "( 5) Deconinck et al., 2003"]} />
          <Txt x={797} y={50.2} font={SANS} size={14} fill="#333" lines={["Price et al., 2016"]} />

          {/* Kilve labels */}
          <MagSus x={1622} y={87} lh={22} />
          <Txt x={1472} y={114} lines={["Kaolinite/Illite"]} anchor="middle" size={17} />
          <Arrow x1={1553} x2={1576} y={515} />
          <Txt x={1580} y={511} lines={["More detrital", "input"]} fill={BLUE} size={17} lh={20} />
          <Arrow x1={1427} x2={1448} y={549} />
          <Txt x={1451} y={545} lines={["Regression", "and/or more", "humid climate"]} fill={BLUE} size={17} lh={18} />
          <Txt x={1400} y={495} lines={["St Audrie’s Bay", "East Quantoxhead", "Kilve", "(5)"]} size={17} lh={18.5} />

          {/* St Audrie's labels */}
          <text x={1281} y={500} fontSize={17} fontFamily={NARROW} textAnchor="middle" fill="#111"><Delta /></text>
          <text x={1283} y={518} fontSize={16} fontFamily={NARROW} textAnchor="middle" fill="#111">( VPDB ‰)</text>
          <text x={1297} y={505} fontSize={9} fontFamily={NARROW} fill="#111">oyster</text>
          <Arrow x1={1370} x2={1348} y={556} />
          <Txt x={1242} y={553} lines={["Warming and/or", "fresh water input"]} fill={BLUE} size={17} lh={18} />
          <Txt x={1195} y={606} lines={["St Audrie’s bay", "(4)"]} size={17} lh={18} />

          {/* Lavernock labels */}
          <text x={1112} y={488} fontSize={17} fontFamily={SANS} textAnchor="middle" fill="#111"><Delta sub="carb" /></text>
          <text x={1119} y={514} fontSize={16} fontFamily={SANS} textAnchor="middle" fill="#111">(‰ VPDB)</text>
          <Arrow x1={1170} x2={1149} y={551} />
          <Txt x={1043} y={548} lines={["Warming and/or", "fresh water input"]} fill={BLUE} size={17} lh={18} />
          <Txt x={1003} y={500} lines={["Lavernock", "Point (3)"]} size={17} lh={20} />

          {/* Doniford labels */}
          <text x={874} y={187} fontSize={17} fontFamily={SANS} textAnchor="middle" fill="#111"><Delta sub="carb" /></text>
          <text x={885} y={210} fontSize={16} fontFamily={SANS} textAnchor="middle" fill="#111">(‰ VPDB)</text>
          <Arrow x1={971} x2={950} y={546} />
          <Txt x={845} y={541} lines={["Warming and/or", "fresh water input"]} fill={BLUE} size={17} lh={18} />
          <Txt x={782} y={531} lines={["Doniford", "(2)"]} size={17} lh={21} />

          {/* Dorset labels */}
          <MagSus x={628} y={292} lh={21} />
          <Arrow x1={583} x2={604} y={463} />
          <Txt x={608} y={456} lines={["More detrital", "input"]} fill={BLUE} size={17} lh={20} />
          <text x={520} y={497} fontSize={18} fontFamily={NARROW} textAnchor="middle" fill="#111"><Delta /></text>
          <text x={520} y={521} fontSize={16} fontFamily={NARROW} textAnchor="middle" fill="#111">(‰ VPDB)</text>
          <line x1={430} y1={542} x2={455} y2={542} stroke={RED} strokeWidth={1.6} />
          <line x1={430} y1={563} x2={455} y2={563} stroke="#000" strokeWidth={1.6} />
          <Txt x={467} y={547} lines={["bulk rock (this study)", "belemnite (Price et al., 2016)"]} size={16} lh={21} />
          <Arrow x1={588} x2={571} y={600} />
          <Txt x={462} y={597} lines={["Warming and/or", "fresh water input"]} fill={BLUE} size={17} lh={18} />
          <Txt x={333} y={504} lines={["CIA"]} anchor="middle" size={18} />
          <Arrow x1={305} x2={323} y={529} />
          <Txt x={327} y={524} lines={["More humid", "climate"]} fill={BLUE} size={17} lh={20} />
          <Txt x={219} y={505} lines={["kaolinite/illite"]} anchor="middle" size={18} />
          <Arrow x1={172} x2={194} y={537} />
          <Txt x={200} y={530} lines={["Regression", "and/or more", "humid climate"]} fill={BLUE} size={17} lh={19} />
          <Txt x={200} y={587} lines={["This study"]} size={16} />
          <Txt x={165} y={606} lines={["Deconinck et al., 2003"]} size={16} fill="#e2232a" />
          <Txt x={32} y={473} lines={["Dorset", "(1)"]} size={18} lh={22} />
        </svg>
      </div>
    </div>
  );
}
